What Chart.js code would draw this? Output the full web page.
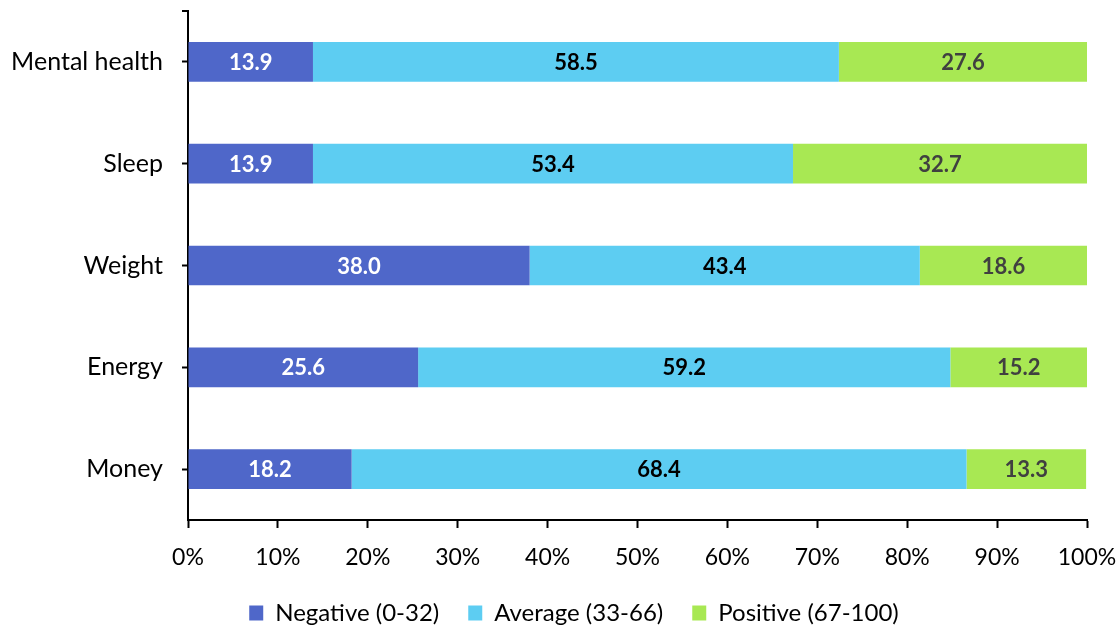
<!DOCTYPE html>
<html>
<head>
<meta charset="utf-8">
<script src="https://cdn.jsdelivr.net/npm/chart.js@4"></script>
<style>
  html, body { margin: 0; padding: 0; background: #fff; }
  #wrap { width: 1120px; height: 627px; }
</style>
</head>
<body>
<div id="wrap"><canvas id="barChartCanvas" width="1120" height="627"></canvas></div>
<script>
// categories and series values
const categories = ['Mental health', 'Sleep', 'Weight', 'Energy', 'Money'];
const negative = [13.9, 13.9, 38.0, 25.6, 18.2];
const average = [58.5, 53.4, 43.4, 59.2, 68.4];
const positive = [27.6, 32.7, 18.6, 15.2, 13.3];
const seriesNames = ['Negative (0-32)', 'Average (33-66)', 'Positive (67-100)'];

const FONT = 'Lato';

// write the value in the middle of each bar segment
const segmentLabels = {
    id: 'segmentLabels',
    afterDatasetsDraw(chart) {
        const ctx = chart.ctx;
        const textColors = ['#ffffff', '#000000', '#404040'];
        ctx.save();
        ctx.font = 'bold 22px ' + FONT;
        ctx.textAlign = 'center';
        ctx.textBaseline = 'middle';
        chart.data.datasets.forEach(function(ds, i) {
            const meta = chart.getDatasetMeta(i);
            ctx.fillStyle = textColors[i];
            meta.data.forEach(function(bar, j) {
                const x = (bar.x + bar.base) / 2;
                ctx.fillText(ds.data[j].toFixed(1), x, bar.y + 1);
            });
        });
        ctx.restore();
    }
};

// small tick at the top end of the category axis
const topTick = {
    id: 'topTick',
    afterDraw(chart) {
        const a = chart.chartArea;
        const ctx = chart.ctx;
        ctx.save();
        ctx.strokeStyle = '#000';
        ctx.lineWidth = 2;
        ctx.beginPath();
        ctx.moveTo(a.left - 6, a.top);
        ctx.lineTo(a.left, a.top);
        ctx.stroke();
        ctx.restore();
    }
};

const barChartCanvas = document.getElementById('barChartCanvas');
new Chart(barChartCanvas, {
    type: 'bar',
    data: {
        labels: categories,
        datasets: [{
            label: seriesNames[0],
            data: negative,
            backgroundColor: '#4F67C9'
        }, {
            label: seriesNames[1],
            data: average,
            backgroundColor: '#5DCDF2'
        }, {
            label: seriesNames[2],
            data: positive,
            backgroundColor: '#A8E853'
        }]
    },
    options: {
        indexAxis: 'y',
        responsive: false,
        animation: false,
        datasets: {
            bar: { categoryPercentage: 1, barPercentage: 0.39, borderWidth: 0 }
        },
        // negative right padding widens the legend row so it sits a bit right of centre
        layout: { padding: { top: 11, right: -28, left: 0, bottom: -8 } },
        scales: {
            x: {
                stacked: true,
                min: 0,
                max: 100,
                ticks: {
                    stepSize: 10,
                    color: '#000',
                    font: { family: FONT, size: 23 },
                    padding: 16,
                    callback: function(v) { return v + '%'; }
                },
                grid: { drawOnChartArea: false, tickLength: 8, tickColor: '#000', tickWidth: 2 },
                border: { color: '#000', width: 2 },
                afterFit: function(scale) {
                    scale.height = 52;
                    scale.paddingLeft = 0;
                    scale.paddingRight = 33;
                }
            },
            y: {
                stacked: true,
                ticks: {
                    color: '#000',
                    font: { family: FONT, size: 25 },
                    padding: 19
                },
                grid: { drawOnChartArea: false, offset: false, tickLength: 6, tickColor: '#000', tickWidth: 2 },
                border: { color: '#000', width: 2 },
                afterFit: function(scale) {
                    scale.width = 188;
                    scale.paddingTop = 0;
                    scale.paddingBottom = 0;
                }
            }
        },
        plugins: {
            tooltip: { enabled: false },
            legend: {
                position: 'bottom',
                labels: {
                    color: '#000',
                    font: { family: FONT, size: 24 },
                    boxWidth: 14,
                    boxHeight: 15,
                    padding: 29
                }
            }
        }
    },
    plugins: [segmentLabels, topTick]
});
</script>
</body>
</html>
